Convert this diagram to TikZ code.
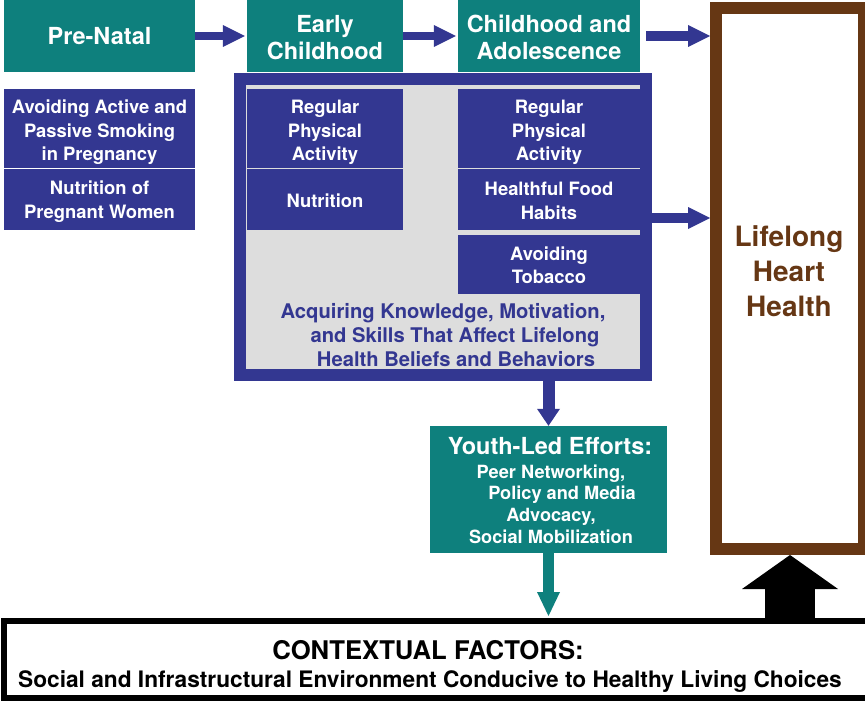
\documentclass[tikz,border=0pt]{standalone}
\usepackage{fontspec}
\setmainfont{TeX Gyre Heros}
\usetikzlibrary{arrows.meta}
\definecolor{stageteal}{RGB}{14,128,125}
\definecolor{habitblue}{RGB}{51,55,145}
\definecolor{heartbrown}{RGB}{102,55,20}
\definecolor{panelgray}{RGB}{221,221,221}
% invisible strut that lowers the text block inside a box
\newcommand\toppad[1]{\rule{0pt}{#1}}
\begin{document}
\begin{tikzpicture}[x=1pt,y=-1pt,
  stage/.style={fill=stageteal, text=white, inner sep=0pt, align=center,
    font=\fontsize{23.5}{27}\selectfont\bfseries},
  habit/.style={fill=habitblue, text=white, inner sep=0pt, align=center,
    font=\fontsize{18.4}{23.5}\selectfont\bfseries},
  flow/.style={draw=habitblue, line width=8pt,
    -{Triangle[length=22pt 0 0,width=22pt 0 0,line width=0pt 0 0]}},
]
\useasboundingbox (0,0) rectangle (865,701);

% life stages along the top
\node[stage, minimum width=191pt, minimum height=72pt] (prenatal) at (99.5,36) {Pre-Natal};
\node[stage, minimum width=156pt, minimum height=72pt] (early) at (325,36) {\toppad{20pt}Early\\Childhood};
\node[stage, minimum width=182pt, minimum height=72pt] (childhood) at (549,36) {\toppad{20pt}Childhood and\\Adolescence};

% pre-natal factors
\node[habit, minimum width=191pt, minimum height=79pt] (smoking) at (99.5,128.5)
  {\toppad{22pt}Avoiding Active and\\Passive Smoking\\in Pregnancy};
\node[habit, minimum width=191pt, minimum height=61pt] (pregnut) at (99.5,199.5)
  {\toppad{18pt}Nutrition of\\Pregnant Women};

% framed panel of childhood habits
\node[draw=habitblue, line width=12pt, fill=panelgray, inner sep=0pt,
  minimum width=406pt, minimum height=296pt] (frame) at (443,227) {};
\node[habit, minimum width=156pt, minimum height=79pt] (activity1) at (325,128.5)
  {\toppad{22pt}Regular\\Physical\\Activity};
\node[habit, minimum width=156pt, minimum height=61pt] (nutrition) at (325,199.5)
  {\toppad{17pt}Nutrition};
\node[habit, minimum width=182pt, minimum height=79pt] (activity2) at (549,128.5)
  {\toppad{22pt}Regular\\Physical\\Activity};
\node[habit, minimum width=182pt, minimum height=61pt] (food) at (549,199.5)
  {\toppad{16pt}Healthful Food\\Habits};
\node[habit, minimum width=182pt, minimum height=59pt] (tobacco) at (549,264.5)
  {\toppad{15pt}Avoiding\\Tobacco};
\node[text=habitblue, align=center, inner sep=0pt,
  font=\fontsize{20.2}{24}\selectfont\bfseries] (knowledge) at (443,335)
  {Acquiring Knowledge, Motivation,\\
   \hspace*{24pt}and Skills That Affect Lifelong\\
   \hspace*{26pt}Health Beliefs and Behaviors};

% lifelong outcome
\node[draw=heartbrown, line width=12pt, inner sep=0pt,
  minimum width=148pt, minimum height=541pt] (heart) at (790,278.5) {};
\node[text=heartbrown, align=center, inner sep=0pt,
  font=\fontsize{28}{35}\selectfont\bfseries] (hearttext) at (789,271)
  {Lifelong\\Heart\\Health};

% youth-led efforts
\node[fill=stageteal, inner sep=0pt, minimum width=237pt, minimum height=127pt] (youth) at (548.5,489.5) {};
\node[text=white, inner sep=0pt, font=\fontsize{23.5}{26}\selectfont\bfseries] (youthtitle) at (550,446.5)
  {Youth-Led Efforts:};
\node[text=white, align=center, inner sep=0pt,
  font=\fontsize{18.2}{21.7}\selectfont\bfseries] (youthbody) at (551,504)
  {Peer Networking,\\\hspace*{22pt}Policy and Media\\Advocacy,\\Social Mobilization};

% contextual factors
\node[draw=black, line width=6pt, inner sep=0pt,
  minimum width=864pt, minimum height=77pt] (context) at (436,659.5) {};
\node[inner sep=0pt, font=\fontsize{25.7}{30}\selectfont\bfseries] (ctxhead) at (428,650)
  {CONTEXTUAL FACTORS:};
\node[inner sep=0pt, font=\fontsize{22.7}{27}\selectfont\bfseries] (ctxbody) at (430,682)
  {Social and Infrastructural Environment Conducive to Healthy Living Choices};

% connectors
\draw[flow, shorten >=2pt] (prenatal) -- (early);
\draw[flow, shorten >=2pt] (early) -- (childhood);
\draw[flow, line width=10pt, shorten <=6pt] (childhood.east) -- (childhood.east -| heart.west);
\draw[flow, line width=10pt] ([yshift=9pt]frame.east) -- ([yshift=9pt]frame.east -| heart.west);
\draw[draw=habitblue, line width=12pt,
  -{Triangle[length=17pt 0 0,width=23pt 0 0,line width=0pt 0 0]}]
  (youth.north |- frame.south) -- (youth.north);
\draw[draw=stageteal, line width=11pt, shorten >=2pt,
  -{Triangle[length=24pt 0 0,width=23pt 0 0,line width=0pt 0 0]}]
  (youth.south) -- (youth.south |- context.north);
\draw[draw=black, line width=50pt,
  -{Triangle[length=34pt 0 0,width=96pt 0 0,line width=0pt 0 0]}]
  (heart.south |- context.north) -- (heart.south);
\end{tikzpicture}
\end{document}
